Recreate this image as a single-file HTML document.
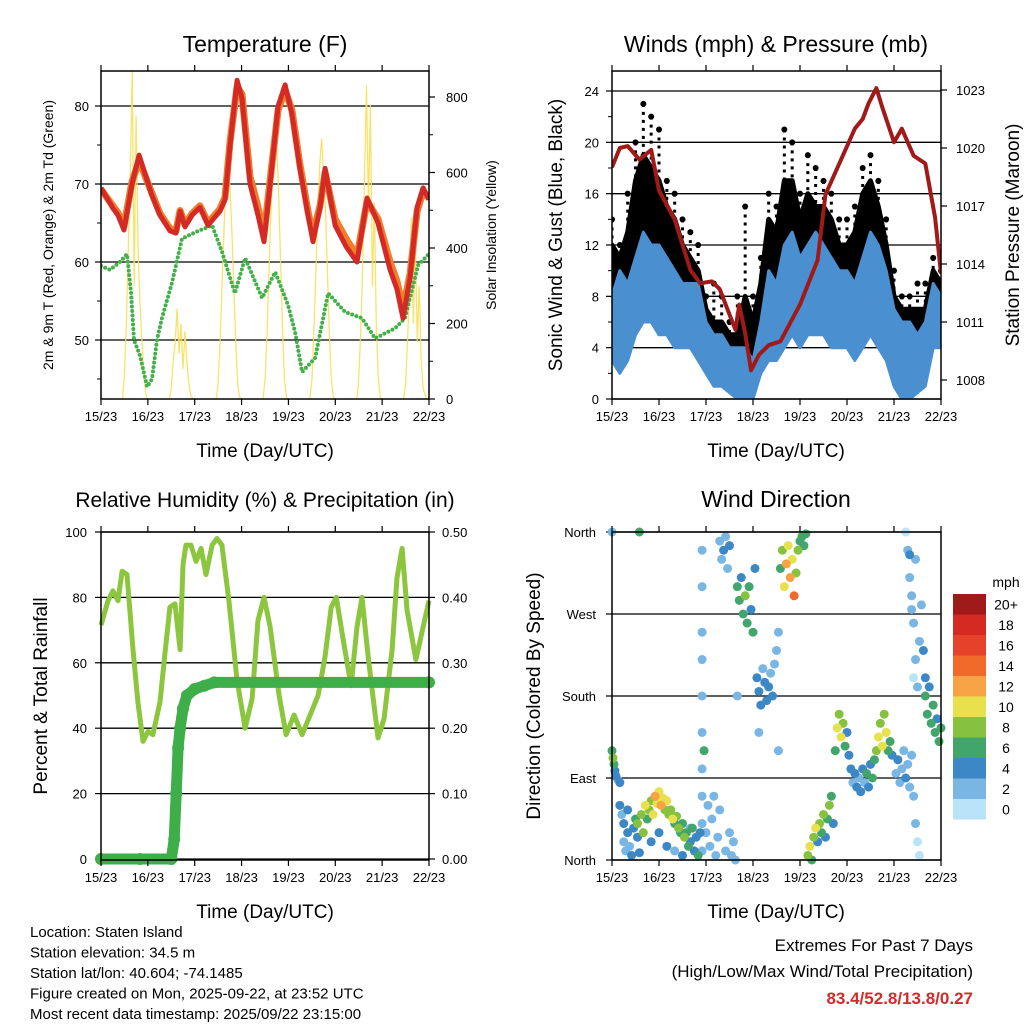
<!DOCTYPE html>
<html><head><meta charset="utf-8"><style>
body{margin:0;background:#fff;width:1024px;height:1024px;overflow:hidden}
svg{display:block;font-family:"Liberation Sans",sans-serif}
</style></head><body>
<svg id="s" width="1024" height="1024" viewBox="0 0 1024 1024"></svg>
<script>
// ---------------- DATA ----------------
const hours4 = [0,4,8,12,16,20,24,28,32,36,40,44,48,52,56,60,64,68,72,76,80,84,88,92,96,100,104,108,112,116,120,124,128,132,136,140,144,148,152,156,160,164,168];
const tempHours = [0,6.1,8.7,11.8,15.9,19.5,26.1,30.2,35.3,38.4,40.5,43,46.6,50.7,54.8,60.9,63.5,66.1,69.7,72.2,76.3,80.4,83.5,86.6,90.7,94.3,97.8,101.9,106,108.6,112.2,114.8,119.9,125.5,131.1,136.3,141.9,148.1,151.6,154.7,158.3,161.9,165,168];
const tempF = [69.5,66.9,66,64.1,70,73.7,68.5,66,64,63.7,66.5,64.5,66,67,64.7,66.5,68,75,83.3,81,70,66,62.6,70,80,82.7,79,72,66,62.6,67,72,64.7,62,60,68.2,65,59,56.5,52.8,58,67,69.5,68];
const tempF9 = [69.3,67.2,66.3,64.6,70.3,73,68.8,66.2,64.3,64,66.6,64.8,66.2,67.2,65,66.8,68.3,75.5,82.5,81.5,71,67,63.5,70.5,79.5,82,79.5,72.5,66.5,63.5,67.3,71.5,65.5,63,60.8,67.8,65.5,60,57.5,54,58.5,66.5,69,68.2];
const dewHours = [0,4.6,9.7,13.3,15.4,16.9,20,23.6,26.1,28.7,31.2,36.4,41.5,48.2,56.9,62,68.6,73.8,82.5,89.2,95.8,99.4,103,109.7,116.3,125,133.7,140.4,150.6,155.7,162.4,167.5];
const dewF = [59.5,59,60,61,56,50,48,44,45,50,52.8,57.4,63,63.8,64.7,61.3,56,60.5,55.4,58.7,54.5,51,45.9,47.7,56,53.6,52.8,50.2,51.5,52.8,59.6,60.9];
const solarHours = [11,12,13,14,15,16,17,18,19,20,21,22,23,24];
const solarDays = [
 [0,60,200,400,600,870,300,750,400,250,150,60,10,0],
 [0,30,100,150,240,120,200,80,180,100,40,10,0,0],
 [0,40,150,300,450,580,640,560,450,300,150,40,5,0],
 [0,50,170,330,500,620,720,680,540,360,180,50,5,0],
 [0,50,170,330,480,620,690,600,500,330,170,50,5,0],
 [0,50,180,340,600,830,500,780,300,520,200,60,5,0],
 [0,40,150,300,480,200,420,150,300,100,30,10,0,0]];
const spdLo = [3,2,3,5,6,6,5,5,4,4,4,3,2,1,1,0.5,0,0,0,2,3,3,4,5,4,5,5,5,4,4,4,3,4,5,4,3,1,0,0,0.5,1,4,4];
const spdHi = [8,10,9,11,13,12,12,11,10,9,9,9,6,5,5,4,4,4,3,6,10,9,12,13,11,12,13,12,11,10,10,9,11,13,12,10,7,6,6,5,6,9,8];
const gustLo = [5,6,7,9,10,11,10,9,8,7,7,6,4,3,3,2,2,1,1,4,7,7,8,9,8,9,9,8,7,7,7,6,8,9,8,7,4,3,3,3,3,6,6];
const gustHi = [12,11,13,17,19,18,17,15,14,12,11,10,7,6,6,5,5,8,6,9,14,13,17,17,14,16,15,15,14,12,12,13,16,17,15,12,8,7,7,7,7,10,9];
const gustPeak = [14,12,16,20,23,22,21,17,16,14,13,12,8,9,8,6,8,15,8,11,16,15,21,20,16,19,18,17,16,14,14,15,18,19,17,14,10,8,8,9,9,11,10];
const pressHours = [0,4,8,14,20,24,32,40,45,51,55,63,65,68,71,75,80,86,96,105,109,117,124,128,131,135,138,144,148,154,160,165,168];
const pressMb = [1019,1020,1020.1,1019.4,1019.9,1017.8,1016.3,1013.7,1013,1013.1,1012.7,1010.6,1011.9,1010.4,1008.5,1009.3,1009.8,1010,1011.9,1014.2,1017.6,1019.4,1021,1021.5,1022.3,1023.1,1022.1,1020.3,1021,1019.6,1019.2,1016.4,1013.5];
const rhHours = [0,3.6,6.1,8.7,10.8,13.3,16.4,18.9,21.5,24.1,26.6,30.2,32.8,35.3,37.9,40.5,42.0,43.5,46.1,48.7,51.2,53.8,56.9,59.4,61.9,65.5,69.6,73.8,77.4,80.4,83.5,86.6,91.2,94.8,98.9,103.0,107.1,111.2,114.8,117.9,120.5,124.6,128.1,131.1,133.7,136.8,141.9,145.0,149.1,151.6,154.2,156.8,161.3,168];
const rhPct = [71.5,79,82,79,88,87,64,48,36,39,38,48,63,77,78,64,90,96,96,91,95,87,96,98,96,79,55,40,49,73,80,71,50,38,44,38,44,50,62,77,80,65,53,71,80,62,37,43,64,86,95,76,61,79];
const precipHours = [0,20,36,37.5,38.5,39.5,40.5,42,44,48,53,58,168];
const precipIn = [0,0,0,0.03,0.1,0.17,0.2,0.23,0.25,0.26,0.265,0.27,0.27];
// [hour, direction deg, speed mph]
const windDirObs = [
[0,120,7],[0.5,112,8],[1,105,6],[1.5,98,5],[2,92,4],[3,88,3],[4,85,4],
[4,60,4],[5,50,3],[6,40,4],[6,20,3],[7,10,2],[8,30,4],[8,55,4],[9,15,3],[10,5,4],[11,35,5],[12,45,6],[13,25,4],[14,8,5],
[13,40,8],[15,50,9],[16,30,8],[17,60,10],[18,45,7],[19,55,9],[20,65,8],[21,50,11],[22,70,12],[23,62,10],[24,75,11],[25,60,12],[26,68,10],[27,55,9],[28,65,11],[29,50,8],[30,55,9],[31,45,10],[32,40,7],[33,48,8],[34,35,9],[35,30,7],[36,40,6],[37,25,8],[38,30,6],[39,15,7],[40,20,5],[41,35,6],[42,10,5],[43,25,4],[44,5,6],[45,30,4],
[20,20,4],[24,30,5],[28,15,4],[32,10,3],[36,5,4],[40,35,3],
[46,10,2],[46,40,3],[46,70,2],[46,100,3],[46,140,2],[46,180,3],[46,220,2],[46,250,3],[46,300,2],[46,340,2],[47,120,6],[48,30,3],[49,60,2],[50,15,2],[51,45,3],[52,70,2],[53,5,2],[54,25,3],[55,55,2],
[55,350,3],[56,330,2],[57,340,4],[58,355,2],[59,320,3],[60,345,4],[58,10,2],[60,30,3],[61,5,2],[62,20,2],[63,0,3],[64,180,3],
[64,300,6],[65,285,7],[66,310,5],[67,270,6],[68,290,8],[69,260,6],[70,300,7],[71,275,5],[72,250,6],[73,320,4],
[74,200,4],[75,185,5],[76,170,4],[77,210,3],[78,195,4],[79,175,5],[80,190,4],[81,205,3],[82,180,4],[83,215,2],[84,230,3],[85,250,2],[75,140,3],[85,120,2],
[86,320,7],[87,340,8],[88,300,10],[89,325,12],[90,345,11],[91,310,13],[92,330,10],[93,290,15],[94,315,9],[95,340,8],[96,350,7],[97,355,6],[98,345,6],[99,358,7],
[100,5,8],[101,15,10],[102,0,6],[103,25,8],[104,35,10],[105,20,4],[106,40,9],[107,30,6],[108,50,8],[109,25,5],[110,45,7],[111,60,8],[112,70,6],[113,40,4],
[114,120,7],[115,145,10],[116,160,8],[117,135,10],[118,150,9],[119,125,6],[120,140,4],[121,115,5],
[122,100,4],[123,85,3],[124,95,5],[125,80,4],[126,90,3],[127,75,5],[128,100,4],[129,85,3],[130,95,6],[131,80,4],[132,105,5],[133,90,7],[134,110,6],[135,120,8],
[136,135,10],[137,150,9],[138,125,11],[139,160,8],[140,140,10],[141,120,7],[142,130,6],[143,115,4],
[145,95,3],[146,110,4],[147,85,3],[148,100,2],[149,120,3],[150,90,4],[151,105,3],[152,80,2],[153,115,3],[154,70,2],[155,40,2],[156,20,1],[157,5,1],
[150,360,1],[151,340,2],[152,310,3],[153,290,2],[154,260,3],[155,220,2],[156,190,2],[154,200,1],[152,335,4],[153,275,3],[155,330,2],[157,240,3],[158,280,3],[159,230,4],[160,200,5],
[160,180,6],[161,160,7],[162,190,5],[163,150,7],[164,170,6],[165,140,7],[166,155,5],[167,130,7],[168,145,6],
[0,360,3],[14,360,6]];
const speedLabels = ["0","2","4","6","8","10","12","14","16","18","20+"];
const speedColors = ["#b9e3f8","#79b6e4","#3c87c6","#42a56b","#86c240","#e8e04c","#f7a345","#f16a2a","#e5412b","#d42a22","#a11a1a"];
const dayLabels = ["15/23","16/23","17/23","18/23","19/23","20/23","21/23","22/23"];
const tempTicks = [50,60,70,80];
const solarTicks = [0,200,400,600,800];
const windTicks = [0,4,8,12,16,20,24];
const pressTicks = [1008,1011,1014,1017,1020,1023];
const rhTicks = [0,20,40,60,80,100];
const rainTicks = ["0.00","0.10","0.20","0.30","0.40","0.50"];
const dirTicks = [0,90,180,270,360];
const dirLabels = ["North","East","South","West","North"];

// ---------------- HELPERS ----------------
const NS="http://www.w3.org/2000/svg", S=document.getElementById('s');
function el(tag,attrs,parent,txt){const e=document.createElementNS(NS,tag);for(const k in attrs)e.setAttribute(k,attrs[k]);if(txt!==undefined)e.textContent=txt;(parent||S).appendChild(e);return e;}
function grp(name){const g=el('g',{});


return g;}
function lin(d0,d1,r0,r1){return v=>r0+(v-d0)*(r1-r0)/(d1-d0);}
function txt(parent,x,y,s,size,anchor,name,extra){const t=el('text',Object.assign({x:x,y:y,'font-size':size,'text-anchor':anchor||'middle',fill:'#000'},extra||{}),parent,s);


return t;}
function frame(g,x0,y0,x1,y1,xs){
  el('rect',{x:x0,y:y0,width:x1-x0,height:y1-y0,fill:'none',stroke:'#000','stroke-width':1.5},g);
  for(let d=0;d<=7;d++){const x=xs(d*24);
    el('line',{x1:x,y1:y1,x2:x,y2:y1+6,stroke:'#000','stroke-width':1.2},g);
    el('line',{x1:x,y1:y0,x2:x,y2:y0-6,stroke:'#000','stroke-width':1.2},g);
    txt(g,x,y1+22,dayLabels[d],13,'middle','x-tick-label');}
}
function hgrid(g,x0,x1,y){el('line',{x1:x0,y1:y,x2:x1,y2:y,stroke:'#000','stroke-width':1.3},g);}
function lt(g,x,y){el('line',{x1:x,y1:y,x2:x-6,y2:y,stroke:'#000','stroke-width':1.2},g);}
function rt(g,x,y){el('line',{x1:x,y1:y,x2:x+6,y2:y,stroke:'#000','stroke-width':1.2},g);}
function path(pts){return pts.map((p,i)=>(i?'L':'M')+p[0].toFixed(1)+','+p[1].toFixed(1)).join('');}

// ---------------- PANEL 1: TEMPERATURE ----------------
(function(){
 const g=grp('temperature-panel');
 const X=lin(0,168,101,429), Y=lin(80,50,106,340), SY=lin(0,800,399,97);
 txt(g,265,52,'Temperature (F)',23,'middle','temperature-title');
 tempTicks.forEach(v=>{hgrid(g,101,429,Y(v));lt(g,101,Y(v));txt(g,89,Y(v)+5,String(v),13,'end','temp-tick-label');});
 [45,55,65,75].forEach(v=>{el('line',{x1:101,y1:Y(v),x2:97,y2:Y(v),stroke:'#000'},g);});
 solarTicks.forEach(v=>{rt(g,429,SY(v));txt(g,446,SY(v)+5,String(v),13,'start','solar-tick-label');});
 [100,300,500,700].forEach(v=>{el('line',{x1:429,y1:SY(v),x2:433,y2:SY(v),stroke:'#000'},g);});
 const cp=el('clipPath',{id:'c1'},g);el('rect',{x:101,y:71,width:328,height:328},cp);
 const pg=el('g',{'clip-path':'url(#c1)'},g);
 solarDays.forEach((day,d)=>{const p=el('path',{d:path(day.map((v,i)=>[X(d*24+solarHours[i]),SY(v)])),fill:'none',stroke:'#f9df5a','stroke-width':1.3,opacity:0.9},pg);
  
  });
 const dp=el('path',{d:path(dewF.map((v,i)=>[X(dewHours[i]),Y(v)])),fill:'none',stroke:'#44b04a','stroke-width':4,'stroke-dasharray':'0 4.5','stroke-linecap':'round','stroke-linejoin':'round'},pg);
 
 
 const op=el('path',{d:path(tempF9.map((v,i)=>[X(tempHours[i]),Y(v)])),fill:'none',stroke:'#f17d2a','stroke-width':7,'stroke-linejoin':'round'},pg);
 
 
 const rp=el('path',{d:path(tempF.map((v,i)=>[X(tempHours[i]),Y(v)])),fill:'none',stroke:'#d42a26','stroke-width':5,'stroke-linejoin':'round'},pg);
 
 
 frame(g,101,71,429,399,X);
 txt(g,265,457,'Time (Day/UTC)',19,'middle','x-axis-title');
 txt(g,0,0,'2m & 9m T (Red, Orange) & 2m Td (Green)',14,'middle','y-axis-title',{transform:'translate(53,235) rotate(-90)'});
 txt(g,0,0,'Solar Insolation (Yellow)',14,'middle','y2-axis-title',{transform:'translate(496,235) rotate(-90)'});
})();

// ---------------- PANEL 2: WINDS ----------------
(function(){
 const g=grp('winds-panel');
 const X=lin(0,168,612,941), Y=lin(0,24,399,91), PY=lin(1008,1023,380,90);
 txt(g,776,52,'Winds (mph) & Pressure (mb)',23,'middle','winds-title');
 windTicks.forEach(v=>{hgrid(g,612,941,Y(v));lt(g,612,Y(v));txt(g,599,Y(v)+5,String(v),13,'end','wind-tick-label');});
 [2,6,10,14,18,22].forEach(v=>{el('line',{x1:612,y1:Y(v),x2:608,y2:Y(v),stroke:'#000'},g);});
 pressTicks.forEach(v=>{rt(g,941,PY(v));txt(g,956,PY(v)+5,String(v),13,'start','pressure-tick-label');});
 const cp=el('clipPath',{id:'c2'},g);el('rect',{x:612,y:71,width:329,height:328},cp);
 const pg=el('g',{'clip-path':'url(#c2)'},g);
 const band=(lo,hi,col,name,w)=>{const pts=hours4.map((h,i)=>[X(h),Y(hi[i])]).concat(hours4.map((h,i)=>[X(h),Y(lo[i])]).reverse());
  const p=el('path',{d:path(pts)+'Z',fill:col,stroke:col,'stroke-width':w,'stroke-linejoin':'round'},pg);
  
  };
 band(gustLo,gustHi,'#000','gust-band',5);
 gustPeak.forEach((v,i)=>{const h=hours4[i];
  const c=el('circle',{cx:X(h),cy:Y(v),r:3,fill:'#000'},pg);
  
  
  const l=el('line',{x1:X(h),y1:Y(v),x2:X(h),y2:Y(gustHi[i]),stroke:'#000','stroke-width':3,'stroke-dasharray':'3 5'},pg);
  
  });
 band(spdLo,spdHi,'#4a90d0','wind-speed-band',3);
 const pp=el('path',{d:path(pressMb.map((v,i)=>[X(pressHours[i]),PY(v)])),fill:'none',stroke:'#a11a1a','stroke-width':4,'stroke-linejoin':'round'},pg);
 
 
 frame(g,612,71,941,399,X);
 txt(g,776,457,'Time (Day/UTC)',19,'middle','x-axis-title');
 txt(g,0,0,'Sonic Wind & Gust (Blue, Black)',19,'middle','y-axis-title',{transform:'translate(562,235) rotate(-90)'});
 txt(g,0,0,'Station Pressure (Maroon)',19,'middle','y2-axis-title',{transform:'translate(1019,235) rotate(-90)'});
})();

// ---------------- PANEL 3: RH ----------------
(function(){
 const g=grp('humidity-panel');
 const X=lin(0,168,101,429), Y=lin(0,100,859,532), RY=lin(0,0.5,859,532);
 txt(g,265,507,'Relative Humidity (%) & Precipitation (in)',21,'middle','humidity-title');
 rhTicks.forEach(v=>{hgrid(g,101,429,Y(v));lt(g,101,Y(v));txt(g,87,Y(v)+5,String(v),13,'end','rh-tick-label');});
 rainTicks.forEach((s,i)=>{const y=RY(parseFloat(s));rt(g,429,y);txt(g,442,y+5,s,13,'start','rain-tick-label');});
 const cp=el('clipPath',{id:'c3'},g);el('rect',{x:95,y:526,width:340,height:340},cp);
 const pg=el('g',{'clip-path':'url(#c3)'},g);
 const rp=el('path',{d:path(rhPct.map((v,i)=>[X(rhHours[i]),Y(v)])),fill:'none',stroke:'#8cc63f','stroke-width':5,'stroke-linejoin':'round'},pg);
 
 
 const pp=el('path',{d:path(precipIn.map((v,i)=>[X(precipHours[i]),RY(v)])),fill:'none',stroke:'#3eae49','stroke-width':11,'stroke-linejoin':'round','stroke-linecap':'round'},pg);
 
 
 precipIn.forEach((v,i)=>{const c=el('circle',{cx:X(precipHours[i]),cy:RY(v),r:6,fill:'#3eae49'},pg);
  
  });
 frame(g,101,532,429,860,X);
 txt(g,265,918,'Time (Day/UTC)',19,'middle','x-axis-title');
 txt(g,0,0,'Percent & Total Rainfall',19,'middle','y-axis-title',{transform:'translate(47,696) rotate(-90)'});
})();

// ---------------- PANEL 4: WIND DIRECTION ----------------
(function(){
 const g=grp('wind-direction-panel');
 const X=lin(0,168,612,941), Y=lin(0,360,860,532);
 txt(g,776,507,'Wind Direction',23,'middle','wind-direction-title');
 dirTicks.forEach((v,i)=>{hgrid(g,612,941,Y(v));lt(g,612,Y(v));txt(g,596,Y(v)+5,dirLabels[i],13,'end','direction-tick-label');});
 const cp=el('clipPath',{id:'c4'},g);el('rect',{x:606,y:526,width:341,height:340},cp);
 const pg=el('g',{'clip-path':'url(#c4)'},g);
 windDirObs.slice().sort((a,b)=>a[2]-b[2]).forEach(o=>{const idx=Math.min(10,Math.floor(o[2]/2));
  const c=el('circle',{cx:X(o[0]),cy:Y(o[1]),r:4.5,fill:speedColors[idx]},pg);
  
  });
 frame(g,612,532,941,860,X);
 txt(g,776,918,'Time (Day/UTC)',19,'middle','x-axis-title');
 txt(g,0,0,'Direction (Colored By Speed)',19,'middle','y-axis-title',{transform:'translate(540,696) rotate(-90)'});
 const lg=grp('speed-legend');
 txt(lg,1006,587,'mph',14,'middle','legend-title');
 const bh=20.5;
 speedColors.forEach((c,i)=>{const y=594+(10-i)*bh;
  const r=el('rect',{x:953,y:y,width:33,height:bh,fill:c},lg);
  
  
  txt(lg,1006,y+bh/2+5,speedLabels[i],14,'middle','legend-label');});
})();

// ---------------- FOOTER ----------------
(function(){
 const g=grp('footer-info');
 ['Location: Staten Island','Station elevation: 34.5 m','Station lat/lon: 40.604; -74.1485','Figure created on Mon, 2025-09-22, at 23:52 UTC','Most recent data timestamp: 2025/09/22 23:15:00']
  .forEach((s,i)=>txt(g,30,937+i*20.5,s,15,'start','station-info-line'));
 const e=grp('extremes-summary');
 txt(e,973,951,'Extremes For Past 7 Days',17,'end','extremes-title');
 txt(e,973,977,'(High/Low/Max Wind/Total Precipitation)',17,'end','extremes-subtitle');
 txt(e,973,1004,'83.4/52.8/13.8/0.27',17,'end','extremes-values',{fill:'#d42a2a','font-weight':'bold'});
})();
</script>
</body></html>
